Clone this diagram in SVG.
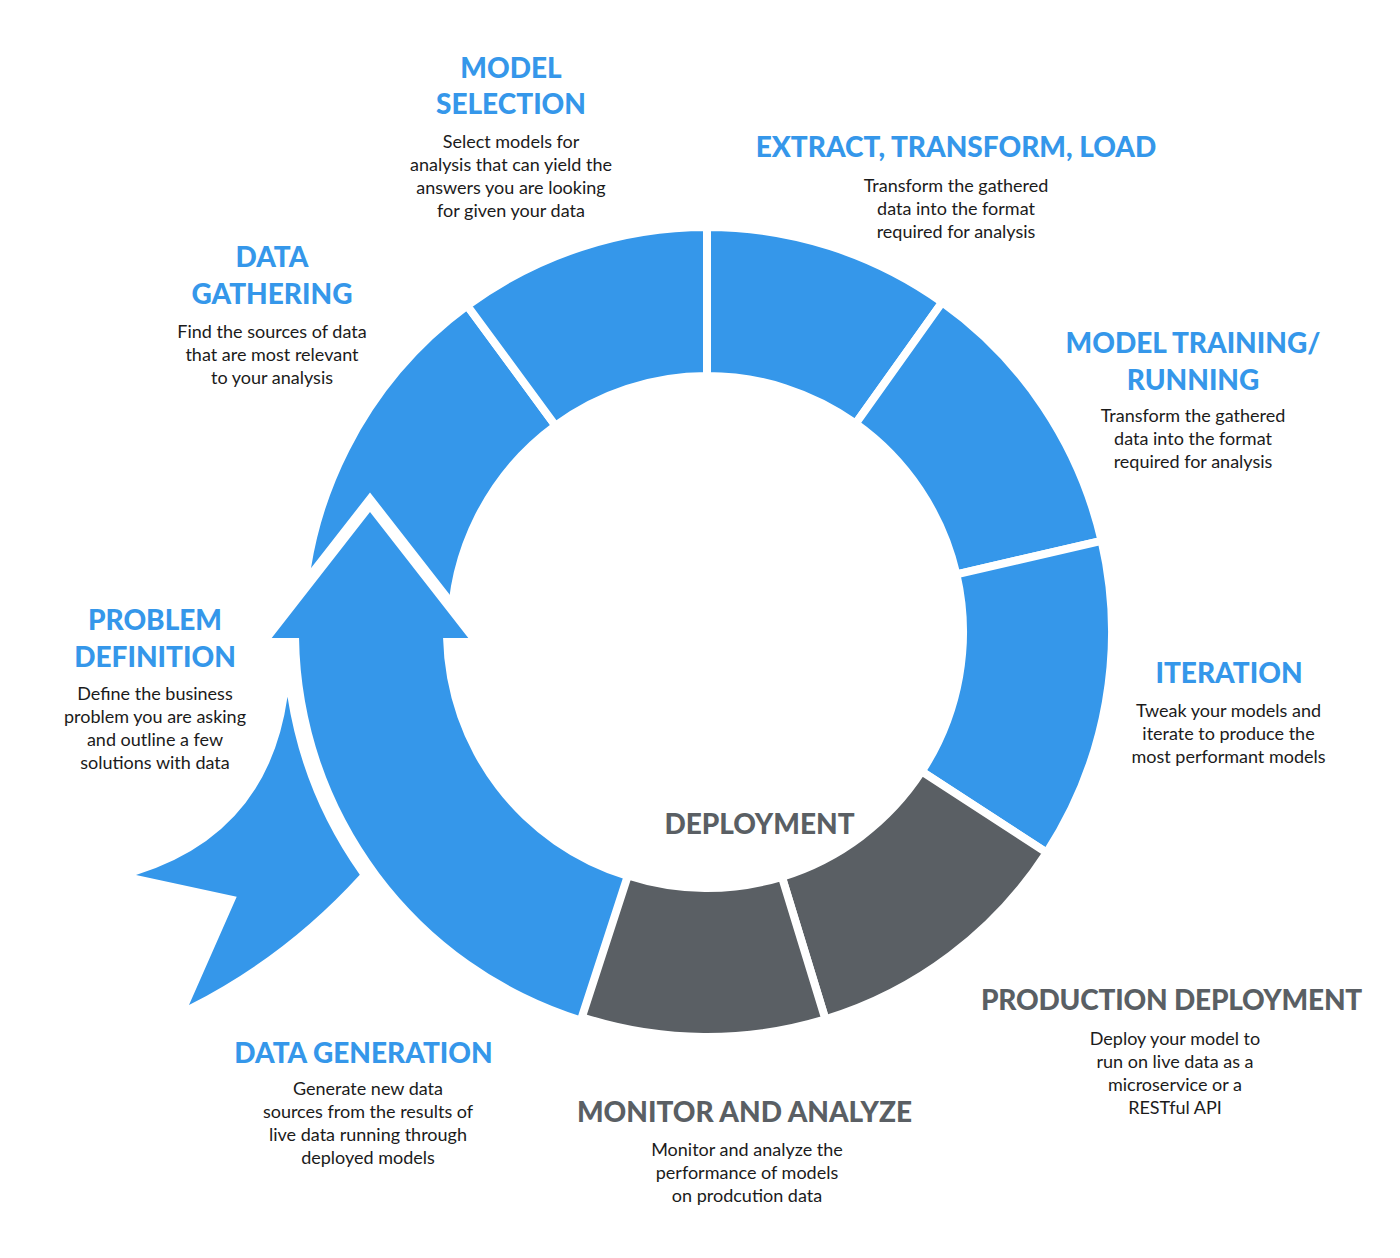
<svg xmlns="http://www.w3.org/2000/svg" width="1400" height="1258" viewBox="0 0 1400 1258">
<style>
.blue{fill:#3597EA}
.gray{fill:#5A5F64}
.seg{stroke:#fff;stroke-width:8;stroke-linejoin:miter}
.halo{fill:#fff;stroke:#fff;stroke-width:24;stroke-linejoin:miter;stroke-miterlimit:10}
.t{font-family:Lato,"Liberation Sans",sans-serif;font-weight:900;font-size:28px;text-anchor:middle}
.tb{fill:#3597EA}
.tg{fill:#5A5F64}
.d{font-family:Lato,"Liberation Sans",sans-serif;font-size:18px;fill:#1b1b1b;text-anchor:middle}
</style>
<rect width="1400" height="1258" fill="#fff"/>
<g id="data-gathering">
<path class="blue seg" d="M302,632 A405,405 0 0 1 467.23,305.6 L555.44,425.68 A256,256 0 0 0 451,632 Z"/>
<text class="t tb" x="272" y="267">DATA</text>
<text class="t tb" x="272" y="303.5">GATHERING</text>
<text class="d" x="272" y="338.3">Find the sources of data</text>
<text class="d" x="272" y="361.3">that are most relevant</text>
<text class="d" x="272" y="384.3">to your analysis</text>
</g>
<g id="data-generation">
<polygon class="halo" points="271.7,638 370,512 468.3,638"/>
<path class="blue" d="M582,1016.72 A403,403 0 0 1 299.04,638 L271.7,638 L370,512 L468.3,638 L443.07,638 A259,259 0 0 0 626.5,879.75 Z"/>
<text class="t tb" x="363.5" y="1062.7">DATA GENERATION</text>
<text class="d" x="368" y="1095">Generate new data</text>
<text class="d" x="368" y="1118">sources from the results of</text>
<text class="d" x="368" y="1141">live data running through</text>
<text class="d" x="368" y="1164">deployed models</text>
</g>
<g id="model-selection">
<path class="blue seg" d="M467.23,305.6 A405,405 0 0 1 707,227 L707,376 A256,256 0 0 0 555.44,425.68 Z"/>
<text class="t tb" x="511" y="77.7">MODEL</text>
<text class="t tb" x="511" y="114.3">SELECTION</text>
<text class="d" x="511" y="148.3">Select models for</text>
<text class="d" x="511" y="171.3">analysis that can yield the</text>
<text class="d" x="511" y="194.3">answers you are looking</text>
<text class="d" x="511" y="217.3">for given your data</text>
</g>
<g id="etl">
<path class="blue seg" d="M707,227 A405,405 0 0 1 942.18,302.28 L855.66,423.59 A256,256 0 0 0 707,376 Z"/>
<text class="t tb" x="956" y="156.7">EXTRACT, TRANSFORM, LOAD</text>
<text class="d" x="956" y="191.7">Transform the gathered</text>
<text class="d" x="956" y="214.7">data into the format</text>
<text class="d" x="956" y="237.7">required for analysis</text>
</g>
<g id="model-training">
<path class="blue seg" d="M942.18,302.28 A405,405 0 0 1 1101.62,540.89 L956.44,574.41 A256,256 0 0 0 855.66,423.59 Z"/>
<text class="t tb" x="1193" y="353.3">MODEL TRAINING/</text>
<text class="t tb" x="1193" y="390">RUNNING</text>
<text class="d" x="1193" y="421.7">Transform the gathered</text>
<text class="d" x="1193" y="444.7">data into the format</text>
<text class="d" x="1193" y="467.7">required for analysis</text>
</g>
<g id="iteration">
<path class="blue seg" d="M1101.62,540.89 A405,405 0 0 1 1046.66,852.58 L921.7,771.43 A256,256 0 0 0 956.44,574.41 Z"/>
<text class="t tb" x="1229" y="683.3">ITERATION</text>
<text class="d" x="1228.5" y="716.7">Tweak your models and</text>
<text class="d" x="1228.5" y="740">iterate to produce the</text>
<text class="d" x="1228.5" y="763.3">most performant models</text>
</g>
<g id="production-deployment">
<path class="gray seg" d="M1046.66,852.58 A405,405 0 0 1 825.41,1019.3 L781.85,876.81 A256,256 0 0 0 921.7,771.43 Z"/>
<text class="t tg" x="1171.5" y="1010" letter-spacing="-0.2">PRODUCTION DEPLOYMENT</text>
<text class="d" x="1175" y="1045">Deploy your model to</text>
<text class="d" x="1175" y="1068">run on live data as a</text>
<text class="d" x="1175" y="1091">microservice or a</text>
<text class="d" x="1175" y="1114">RESTful API</text>
</g>
<g id="monitor-analyze">
<path class="gray seg" d="M825.41,1019.3 A405,405 0 0 1 581.85,1017.18 L627.89,875.47 A256,256 0 0 0 781.85,876.81 Z"/>
<text class="t tg" x="744.5" y="1121.7">MONITOR AND ANALYZE</text>
<text class="d" x="747" y="1156">Monitor and analyze the</text>
<text class="d" x="747" y="1179">performance of models</text>
<text class="d" x="747" y="1202">on prodcution data</text>
</g>
<g id="problem-definition">
<path class="blue" d="M287.5,696.8 Q267.9,834 136,875 L236.7,896.7 L189,1005 Q285.9,956 359.8,874.7 A419.5,419.5 0 0 1 287.5,696.8 Z"/>
<text class="t tb" x="155" y="630">PROBLEM</text>
<text class="t tb" x="155" y="666.7">DEFINITION</text>
<text class="d" x="155" y="700">Define the business</text>
<text class="d" x="155" y="723">problem you are asking</text>
<text class="d" x="155" y="746">and outline a few</text>
<text class="d" x="155" y="769">solutions with data</text>
</g>
<g id="deployment-label">
<text class="t tg" x="759.5" y="834">DEPLOYMENT</text>
</g>
<g id="connectors"/>
</svg>
